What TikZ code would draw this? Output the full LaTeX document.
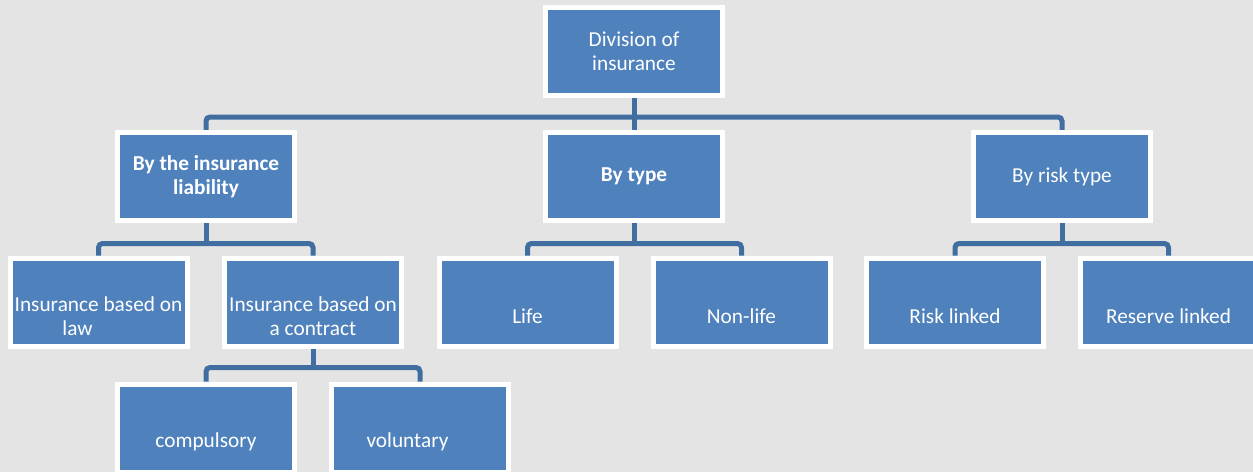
\documentclass[tikz,border=0pt]{standalone}
\usepackage{fontspec}
\setmainfont{Carlito}
\usetikzlibrary{backgrounds}

\definecolor{boxblue}{RGB}{79,129,189}
\definecolor{linkblue}{RGB}{65,110,160}
\definecolor{paper}{RGB}{228,228,228}

\tikzset{
  orgbox/.style={rectangle, fill=boxblue, draw=white, line width=5pt,
    minimum width=177pt, minimum height=88pt, inner sep=0pt,
    text=white, align=center, font=\fontsize{21.3}{24}\selectfont},
  lowtext/.style={text=white, align=center, yshift=-14pt,
    font=\fontsize{21.3}{24}\selectfont},
  link/.style={draw=linkblue, line width=5pt},
  elbow/.style={link, rounded corners=4pt}
}

\begin{document}
\begin{tikzpicture}[x=1pt, y=-1pt]
            \useasboundingbox (0,0) rectangle (1253,472);

            % Top box
            \node[orgbox] (root) at (634,51) {Division of\\insurance};

            % First level
            \node[orgbox, font=\fontsize{21.3}{24}\selectfont\bfseries] (liab) at (206,176.5) {By the insurance\\liability};
            \node[orgbox, font=\fontsize{21.3}{24}\selectfont\bfseries] (bytype) at (634,176.5) {By type};
            \node[orgbox] (byrisk) at (1062,176.5) {By risk type};

            % Second level (text sits low in the boxes)
            \node[orgbox, label={[lowtext]center:Insurance based on\\\mbox{law\kern42pt}}] (law) at (98.5,302) {};
            \node[orgbox, label={[lowtext]center:Insurance based on\\a contract}] (contract) at (313,302) {};
            \node[orgbox, label={[lowtext]center:Life}] (life) at (527.5,302) {};
            \node[orgbox, label={[lowtext]center:Non-life}] (nonlife) at (741.5,302) {};
            \node[orgbox, label={[lowtext]center:Risk linked}] (risk) at (955,302) {};
            \node[orgbox, label={[lowtext]center:Reserve linked}] (reserve) at (1168.5,302) {};

            % Third level
            \node[orgbox, label={[lowtext]center:compulsory}] (compulsory) at (206,428) {};
            \node[orgbox, label={[lowtext]center:\mbox{voluntary\kern25pt}}] (voluntary) at (420,428) {};

            % Canvas and connectors behind the boxes
            \begin{pgfonlayer}{background}
            \fill[paper] (0,0) rectangle (1253,472);

            \draw[link] (root.south) -- ++(0,19.5) coordinate (rootbar);
            \draw[elbow] (rootbar) -| (liab.north);
            \draw[elbow] (rootbar) -| (bytype.north);
            \draw[elbow] (rootbar) -| (byrisk.north);

            \draw[link] (liab.south) -- ++(0,20.5) coordinate (liabbar);
            \draw[elbow] (liabbar) -| (law.north);
            \draw[elbow] (liabbar) -| (contract.north);

            \draw[link] (bytype.south) -- ++(0,20.5) coordinate (typebar);
            \draw[elbow] (typebar) -| (life.north);
            \draw[elbow] (typebar) -| (nonlife.north);

            \draw[link] (byrisk.south) -- ++(0,20.5) coordinate (riskbar);
            \draw[elbow] (riskbar) -| (risk.north);
            \draw[elbow] (riskbar) -| (reserve.north);

            \draw[link] (contract.south) -- ++(0,19) coordinate (contractbar);
            \draw[elbow] (contractbar) -| (compulsory.north);
            \draw[elbow] (contractbar) -| (voluntary.north);
            \end{pgfonlayer}
\end{tikzpicture}
\end{document}
